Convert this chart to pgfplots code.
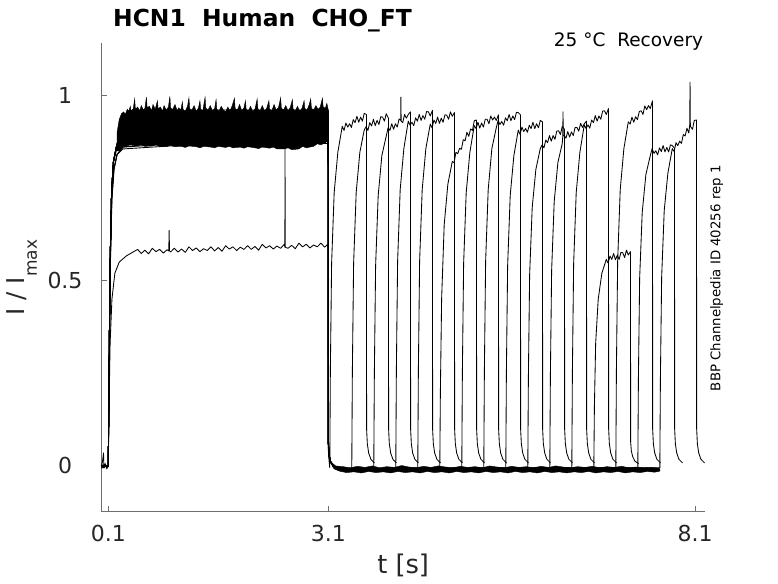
\documentclass[border=0pt]{standalone}
\usepackage{fontspec}
\setmainfont{DejaVu Sans}
\usepackage{pgfplots}
\pgfplotsset{compat=1.18}
\definecolor{axgray}{RGB}{110,110,110}
\definecolor{tickgray}{RGB}{38,38,38}
\begin{document}
\begin{tikzpicture}
\useasboundingbox (0,0) rectangle (778pt,583pt);
\begin{axis}[
  scale only axis, width=603.7pt, height=468.4pt,
  at={(101.3pt,71.3pt)}, anchor=south west,
  xmin=0.005, xmax=8.236, ymin=-0.1235, ymax=1.14,
  axis x line*=bottom, axis y line*=left,
  axis line style={line width=0.6pt, draw=axgray},
  xtick={0.1,3.1,8.1}, xticklabels={0.1,3.1,8.1},
  ytick={0,0.5,1}, yticklabels={0,0.5,1},
  tick align=inside, major tick length=5.5pt,
  tick style={line width=0.6pt, draw=axgray},
  /pgf/number format/assume math mode=true,
  ticklabel style={font=\fontsize{22}{26}\selectfont, text=tickgray},
  xticklabel style={anchor=base, yshift=-30pt},
  yticklabel style={anchor=center, xshift=-36.3pt},
  clip=false, no markers,
  tr/.style={black, solid, line width=0.85pt, mark=none, line join=round},
  bd/.style={fill=black, draw=black, solid, line width=0.4pt, mark=none},
]
% ---- activation-phase band (all full-amplitude sweeps, overlapping noise) ----
\addplot[bd] coordinates {
(0.22,0.90) (0.25,0.935) (0.28,0.95) (0.31,0.955) (0.33,0.948) (0.36,0.962) (0.38,0.957) (0.40,0.97)
(0.41,0.958) (0.44,0.963) (0.46,0.99) (0.47,0.962) (0.50,0.968) (0.53,0.958) (0.55,0.972) (0.58,0.96)
(0.60,0.965) (0.62,0.995) (0.63,0.966) (0.66,0.97) (0.69,0.958) (0.71,0.975) (0.74,0.962) (0.77,0.985)
(0.78,0.963) (0.81,0.968) (0.84,0.957) (0.86,0.972) (0.89,0.96) (0.92,0.968) (0.94,0.997) (0.95,0.965)
(0.98,0.962) (1.01,0.975) (1.04,0.958) (1.06,0.966) (1.09,0.96) (1.11,0.982) (1.12,0.962) (1.15,0.957)
(1.18,0.97) (1.20,0.993) (1.21,0.964) (1.24,0.96) (1.27,0.972) (1.30,0.956) (1.33,0.966) (1.35,0.985)
(1.36,0.962) (1.39,0.959) (1.42,0.995) (1.43,0.965) (1.46,0.96) (1.49,0.972) (1.52,0.958) (1.55,0.964)
(1.57,0.988) (1.58,0.962) (1.61,0.957) (1.64,0.97) (1.67,0.96) (1.70,0.955) (1.73,0.968) (1.76,0.958)
(1.79,0.972) (1.82,0.992) (1.83,0.964) (1.86,0.96) (1.89,0.975) (1.92,0.958) (1.95,0.966) (1.97,0.985)
(1.98,0.962) (2.01,0.958) (2.04,0.97) (2.07,0.956) (2.10,0.962) (2.13,0.99) (2.14,0.963) (2.17,0.958)
(2.20,0.972) (2.23,0.957) (2.26,0.965) (2.29,0.985) (2.30,0.962) (2.33,0.958) (2.36,0.975) (2.39,0.96)
(2.42,0.966) (2.45,0.993) (2.46,0.965) (2.49,0.96) (2.52,0.972) (2.55,0.958) (2.58,0.966) (2.61,0.988)
(2.62,0.963) (2.65,0.958) (2.68,0.97) (2.71,0.957) (2.74,0.964) (2.77,0.985) (2.78,0.964) (2.81,0.96)
(2.84,0.975) (2.86,0.99) (2.87,0.965) (2.90,0.96) (2.93,0.972) (2.96,0.962) (2.99,0.968) (3.02,0.992)
(3.03,0.968) (3.06,0.965) (3.08,0.978) (3.10,0.96)
(3.10,0.88) (3.06,0.872) (3.00,0.866) (2.95,0.869) (2.90,0.862) (2.80,0.858) (2.75,0.862) (2.70,0.855)
(2.60,0.853) (2.55,0.858) (2.50,0.855) (2.40,0.855) (2.35,0.860) (2.30,0.857) (2.20,0.860) (2.15,0.856)
(2.10,0.858) (2.00,0.861) (1.95,0.857) (1.90,0.860) (1.80,0.858) (1.75,0.862) (1.70,0.859) (1.60,0.862)
(1.55,0.858) (1.50,0.860) (1.40,0.862) (1.35,0.858) (1.30,0.861) (1.20,0.863) (1.15,0.859) (1.10,0.862)
(1.00,0.861) (0.95,0.865) (0.90,0.862) (0.80,0.862) (0.75,0.866) (0.70,0.863) (0.60,0.862) (0.55,0.866)
(0.50,0.864) (0.40,0.866) (0.30,0.86) (0.25,0.85) (0.22,0.85)
} -- cycle;
% ---- deactivated baseline band after 3.1 s ----
\addplot[bd] coordinates {
(3.15,0.008) (3.2,0.0) (3.3,-0.002) (3.4,-0.005) (3.5,-0.001) (3.6,-0.004) (3.7,0.000) (3.8,-0.005)
(3.9,-0.002) (4.0,-0.004) (4.1,0.001) (4.2,-0.003) (4.3,-0.005) (4.4,-0.001) (4.5,-0.004) (4.6,0.000)
(4.7,-0.003) (4.8,-0.005) (4.9,-0.001) (5.0,-0.004) (5.1,-0.002) (5.2,-0.005) (5.3,0.000) (5.4,-0.003)
(5.5,-0.005) (5.6,-0.001) (5.7,-0.004) (5.8,-0.002) (5.9,-0.005) (6.0,-0.001) (6.1,-0.004) (6.2,0.000)
(6.3,-0.003) (6.4,-0.005) (6.5,-0.002) (6.6,-0.004) (6.7,-0.001) (6.8,-0.005) (6.9,-0.002) (7.0,-0.004)
(7.1,-0.001) (7.2,-0.005) (7.3,-0.003) (7.4,-0.005) (7.5,-0.004) (7.6,-0.006) (7.62,-0.008)
(7.62,-0.014) (7.55,-0.017) (7.45,-0.015) (7.35,-0.018) (7.25,-0.016) (7.15,-0.019) (7.05,-0.015)
(6.95,-0.018) (6.85,-0.016) (6.75,-0.019) (6.65,-0.015) (6.55,-0.018) (6.45,-0.016) (6.35,-0.019)
(6.25,-0.016) (6.15,-0.018) (6.05,-0.015) (5.95,-0.019) (5.85,-0.016) (5.75,-0.018) (5.65,-0.015)
(5.55,-0.019) (5.45,-0.016) (5.35,-0.018) (5.25,-0.015) (5.15,-0.019) (5.05,-0.016) (4.95,-0.018)
(4.85,-0.015) (4.75,-0.019) (4.65,-0.016) (4.55,-0.018) (4.45,-0.015) (4.35,-0.019) (4.25,-0.016)
(4.15,-0.018) (4.05,-0.015) (3.95,-0.019) (3.85,-0.016) (3.75,-0.018) (3.65,-0.015) (3.55,-0.019)
(3.45,-0.016) (3.35,-0.018) (3.25,-0.014) (3.18,-0.008) (3.15,0.0)
} -- cycle;
% ---- sweep 1 ----
\addplot[tr] coordinates {
(0.005,0) (0.02,0.01) (0.035,0.035) (0.042,-0.006) (0.06,0.006) (0.08,-0.008) (0.1,0) (0.11,0.25) (0.125,0.55)
(0.145,0.74) (0.17,0.82) (0.21,0.86) (0.3,0.91) (0.7,0.92) (1.5,0.93) (3.098,0.93) (3.101,0.05) (3.11,0.015)
(3.120,-0.005) (3.128,0.255) (3.145,0.546) (3.180,0.737) (3.230,0.846)
(3.290,0.916) (3.315,0.905) (3.340,0.925) (3.365,0.914) (3.390,0.923) (3.415,0.913) (3.440,0.934) (3.465,0.926)
(3.490,0.943) (3.515,0.927) (3.540,0.941) (3.565,0.930) (3.590,0.951) (3.620,0.948)
(3.622,0.10) (3.632,0.06) (3.650,0.035) (3.680,0.018) (3.730,0.008)};
% ---- sweep 2 ----
\addplot[tr] coordinates {
(0.005,-0.004) (0.05,0.004) (0.1,-0.002) (0.11,0.25) (0.125,0.55) (0.145,0.74) (0.17,0.82) (0.21,0.86) (0.3,0.93) (0.7,0.94)
(1.5,0.95) (3.098,0.95) (3.101,0.06) (3.11,0.03) (3.13,0.012) (3.17,0.0) (3.25,-0.008) (3.35,-0.01)
(3.420,-0.005) (3.428,0.255) (3.445,0.546) (3.480,0.737) (3.530,0.846)
(3.590,0.906) (3.615,0.915) (3.640,0.905) (3.665,0.926) (3.690,0.917) (3.715,0.935) (3.740,0.918) (3.765,0.932)
(3.790,0.921) (3.815,0.942) (3.840,0.941) (3.865,0.930) (3.890,0.950) (3.920,0.938)
(3.922,0.10) (3.932,0.06) (3.950,0.035) (3.980,0.018) (4.030,0.008)};
% ---- sweep 3 ----
\addplot[tr] coordinates {
(0.005,0) (0.1,0) (0.112,0.25) (0.127,0.55) (0.147,0.74) (0.172,0.82) (0.21,0.85) (0.3,0.88) (0.7,0.89)
(1.5,0.90) (3.098,0.90) (3.101,0.06) (3.11,0.03) (3.13,0.012) (3.17,0.0) (3.25,-0.008) (3.35,-0.01)
(3.720,-0.005) (3.728,0.252) (3.745,0.54) (3.780,0.729) (3.830,0.837)
(3.890,0.890) (3.915,0.912) (3.940,0.905) (3.965,0.923) (3.990,0.908) (4.015,0.923) (4.040,0.914) (4.065,0.936)
(4.087,0.932) (4.090,0.995) (4.093,0.93) (4.115,0.926) (4.140,0.948) (4.165,0.938) (4.190,0.948) (4.220,0.955)
(4.222,0.10) (4.232,0.06) (4.250,0.035) (4.280,0.018) (4.330,0.008)};
% ---- sweep 4 ----
\addplot[tr] coordinates {
(0.005,0.003) (0.1,0) (0.11,0.25) (0.125,0.55) (0.145,0.74) (0.17,0.82) (0.21,0.86) (0.3,0.92) (0.7,0.93)
(1.5,0.94) (3.098,0.94) (3.101,0.06) (3.11,0.03) (3.13,0.012) (3.17,0.0) (3.25,-0.008) (3.35,-0.01)
(4.020,-0.005) (4.028,0.258) (4.045,0.552) (4.080,0.745) (4.130,0.856)
(4.190,0.930) (4.215,0.919) (4.240,0.927) (4.265,0.918) (4.290,0.939) (4.315,0.930) (4.340,0.948) (4.365,0.932)
(4.390,0.945) (4.415,0.935) (4.440,0.956) (4.465,0.955) (4.490,0.944) (4.520,0.959)
(4.522,0.10) (4.532,0.06) (4.550,0.035) (4.580,0.018) (4.630,0.008)};
% ---- sweep 5 ----
\addplot[tr] coordinates {
(0.005,-0.006) (0.1,0) (0.11,0.25) (0.125,0.55) (0.145,0.74) (0.17,0.82) (0.21,0.86) (0.3,0.90) (0.7,0.91)
(1.5,0.92) (3.098,0.92) (3.101,0.06) (3.11,0.03) (3.13,0.012) (3.17,0.0) (3.25,-0.008) (3.35,-0.01)
(4.320,-0.005) (4.328,0.258) (4.345,0.552) (4.380,0.745) (4.430,0.856)
(4.490,0.922) (4.515,0.912) (4.540,0.933) (4.565,0.924) (4.590,0.941) (4.615,0.924) (4.640,0.938) (4.665,0.927)
(4.690,0.947) (4.715,0.946) (4.740,0.935) (4.765,0.955) (4.790,0.943) (4.820,0.953)
(4.822,0.10) (4.832,0.06) (4.850,0.035) (4.880,0.018) (4.930,0.008)};
% ---- sweep 6 ----
\addplot[tr] coordinates {
(0.005,0) (0.1,0) (0.114,0.25) (0.13,0.55) (0.15,0.72) (0.18,0.80) (0.22,0.84) (0.3,0.86) (0.7,0.87)
(1.5,0.88) (3.098,0.88) (3.101,0.06) (3.11,0.03) (3.13,0.012) (3.17,0.0) (3.25,-0.008) (3.35,-0.01)
(4.620,-0.005) (4.628,0.20) (4.645,0.45) (4.680,0.65) (4.730,0.76)
(4.790,0.821) (4.815,0.818) (4.840,0.846) (4.865,0.842) (4.890,0.857) (4.915,0.854) (4.940,0.880) (4.965,0.877)
(4.990,0.900) (5.015,0.889) (5.040,0.909) (5.065,0.905) (5.090,0.931) (5.120,0.933)
(5.122,0.10) (5.132,0.06) (5.150,0.035) (5.180,0.018) (5.230,0.008)};
% ---- sweep 7 ----
\addplot[tr] coordinates {
(0.005,0) (0.1,0) (0.11,0.25) (0.125,0.55) (0.145,0.74) (0.17,0.82) (0.21,0.86) (0.3,0.925) (0.7,0.935)
(1.5,0.945) (3.098,0.945) (3.101,0.06) (3.11,0.03) (3.13,0.012) (3.17,0.0) (3.25,-0.008) (3.35,-0.01)
(4.920,-0.005) (4.928,0.255) (4.945,0.546) (4.980,0.737) (5.030,0.846)
(5.090,0.918) (5.115,0.910) (5.140,0.927) (5.165,0.911) (5.190,0.925) (5.215,0.914) (5.240,0.935) (5.265,0.935)
(5.290,0.923) (5.315,0.944) (5.340,0.933) (5.365,0.941) (5.390,0.932) (5.420,0.947)
(5.422,0.10) (5.432,0.06) (5.450,0.035) (5.480,0.018) (5.530,0.008)};
% ---- sweep 8 ----
\addplot[tr] coordinates {
(0.005,0) (0.1,0) (0.11,0.25) (0.125,0.55) (0.145,0.74) (0.17,0.82) (0.21,0.86) (0.3,0.935) (0.7,0.945)
(1.5,0.955) (3.098,0.955) (3.101,0.06) (3.11,0.03) (3.13,0.012) (3.17,0.0) (3.25,-0.008) (3.35,-0.01)
(5.220,-0.005) (5.228,0.258) (5.245,0.552) (5.280,0.745) (5.330,0.856)
(5.390,0.912) (5.415,0.932) (5.440,0.921) (5.465,0.929) (5.490,0.919) (5.515,0.939) (5.540,0.931) (5.565,0.948)
(5.590,0.931) (5.615,0.944) (5.640,0.934) (5.665,0.954) (5.690,0.953) (5.720,0.947)
(5.722,0.10) (5.732,0.06) (5.750,0.035) (5.780,0.018) (5.830,0.008)};
% ---- sweep 9 ----
\addplot[tr] coordinates {
(0.005,0) (0.1,0) (0.11,0.25) (0.125,0.55) (0.145,0.74) (0.17,0.82) (0.21,0.86) (0.3,0.89) (0.7,0.90)
(1.5,0.91) (3.098,0.91) (3.101,0.06) (3.11,0.03) (3.13,0.012) (3.17,0.0) (3.25,-0.008) (3.35,-0.01)
(5.520,-0.005) (5.528,0.252) (5.545,0.54) (5.580,0.729) (5.630,0.837)
(5.690,0.906) (5.715,0.894) (5.740,0.914) (5.765,0.902) (5.790,0.910) (5.815,0.900) (5.840,0.919) (5.865,0.910)
(5.890,0.927) (5.915,0.910) (5.940,0.923) (5.965,0.912) (5.990,0.932) (6.020,0.928)
(6.022,0.10) (6.032,0.06) (6.050,0.035) (6.080,0.018) (6.130,0.008)};
% ---- sweep 10 ----
\addplot[tr] coordinates {
(0.005,0) (0.1,0) (0.113,0.25) (0.128,0.55) (0.148,0.72) (0.175,0.80) (0.22,0.84) (0.3,0.86) (0.7,0.865)
(1.5,0.875) (3.098,0.875) (3.101,0.06) (3.11,0.03) (3.13,0.012) (3.17,0.0) (3.25,-0.008) (3.35,-0.01)
(5.820,-0.005) (5.828,0.241) (5.845,0.516) (5.880,0.697) (5.930,0.80)
(5.990,0.856) (6.015,0.866) (6.040,0.858) (6.065,0.879) (6.090,0.872) (6.115,0.891) (6.140,0.876) (6.165,0.891)
(6.190,0.881) (6.215,0.903) (6.240,0.904) (6.265,0.894) (6.290,0.916) (6.320,0.908)
(6.322,0.10) (6.332,0.06) (6.350,0.035) (6.380,0.018) (6.430,0.008)};
% ---- sweep 11 ----
\addplot[tr] coordinates {
(0.005,0) (0.1,0) (0.11,0.25) (0.125,0.55) (0.145,0.74) (0.17,0.82) (0.21,0.86) (0.3,0.87) (0.7,0.88)
(1.5,0.89) (3.098,0.89) (3.101,0.06) (3.11,0.03) (3.13,0.012) (3.17,0.0) (3.25,-0.008) (3.35,-0.01)
(6.120,-0.005) (6.128,0.246) (6.145,0.528) (6.180,0.713) (6.230,0.818)
(6.290,0.870) (6.297,0.89) (6.300,0.955) (6.303,0.89) (6.315,0.891) (6.340,0.884) (6.365,0.902) (6.390,0.887)
(6.415,0.901) (6.440,0.891) (6.465,0.913) (6.490,0.913) (6.515,0.903) (6.540,0.924) (6.565,0.913) (6.590,0.923)
(6.620,0.930)
(6.622,0.10) (6.632,0.06) (6.650,0.035) (6.680,0.018) (6.730,0.008)};
% ---- sweep 12 ----
\addplot[tr] coordinates {
(0.005,0) (0.1,0) (0.11,0.25) (0.125,0.55) (0.145,0.74) (0.17,0.82) (0.21,0.86) (0.3,0.915) (0.7,0.925)
(1.5,0.935) (3.098,0.935) (3.101,0.06) (3.11,0.03) (3.13,0.012) (3.17,0.0) (3.25,-0.008) (3.35,-0.01)
(6.420,-0.005) (6.428,0.255) (6.445,0.546) (6.480,0.737) (6.530,0.846)
(6.590,0.920) (6.615,0.910) (6.640,0.920) (6.665,0.911) (6.690,0.933) (6.715,0.926) (6.740,0.945) (6.765,0.930)
(6.790,0.944) (6.815,0.935) (6.840,0.957) (6.865,0.958) (6.890,0.948) (6.920,0.964)
(6.922,0.10) (6.932,0.06) (6.950,0.035) (6.980,0.018) (7.030,0.008)};
% ---- sweep 13 (reduced amplitude) ----
\addplot[tr] coordinates {
(0.005,0) (0.1,0) (0.11,0.15) (0.125,0.33) (0.15,0.45) (0.19,0.52) (0.25,0.55) (0.35,0.567)
(0.50,0.584) (0.55,0.573) (0.60,0.582) (0.65,0.572) (0.70,0.587) (0.75,0.578) (0.80,0.584) (0.85,0.574)
(0.90,0.583) (0.925,0.58) (0.93,0.635) (0.935,0.58) (0.95,0.577) (1.00,0.587) (1.05,0.577) (1.10,0.585)
(1.15,0.576) (1.20,0.591) (1.25,0.581) (1.30,0.588) (1.35,0.578) (1.40,0.586) (1.45,0.581) (1.50,0.591)
(1.55,0.580) (1.60,0.589) (1.65,0.579) (1.70,0.594) (1.75,0.585) (1.80,0.591) (1.85,0.581) (1.90,0.590)
(1.95,0.584) (2.00,0.594) (2.05,0.584) (2.10,0.592) (2.15,0.582) (2.20,0.598) (2.25,0.588) (2.30,0.594)
(2.35,0.585) (2.40,0.593) (2.45,0.587) (2.50,0.598) (2.508,0.59) (2.51,0.86) (2.512,0.59) (2.55,0.587)
(2.60,0.595) (2.65,0.586) (2.70,0.601) (2.75,0.591) (2.80,0.598) (2.85,0.588) (2.90,0.596) (2.95,0.591)
(3.00,0.601) (3.05,0.590) (3.095,0.598)
(3.101,0.04) (3.11,0.02) (3.13,0.008) (3.17,0.0) (3.25,-0.008) (3.35,-0.01)
(6.720,-0.005) (6.728,0.16) (6.745,0.33) (6.780,0.45) (6.830,0.52)
(6.890,0.557) (6.915,0.547) (6.940,0.566) (6.965,0.557) (6.990,0.573) (7.015,0.556) (7.040,0.568) (7.065,0.557)
(7.090,0.576) (7.115,0.575) (7.140,0.562) (7.165,0.582) (7.190,0.569) (7.220,0.578)
(7.222,0.065) (7.232,0.04) (7.250,0.025) (7.280,0.013) (7.330,0.006)};
% ---- sweep 14 ----
\addplot[tr] coordinates {
(0.005,0) (0.1,0) (0.11,0.25) (0.125,0.55) (0.145,0.74) (0.17,0.82) (0.21,0.86) (0.3,0.94) (0.7,0.95)
(1.5,0.96) (3.098,0.96) (3.101,0.06) (3.11,0.03) (3.13,0.012) (3.17,0.0) (3.25,-0.008) (3.35,-0.01)
(7.020,-0.005) (7.028,0.258) (7.045,0.552) (7.080,0.745) (7.130,0.856)
(7.190,0.928) (7.215,0.922) (7.240,0.941) (7.265,0.927) (7.290,0.942) (7.315,0.934) (7.340,0.956) (7.365,0.958)
(7.390,0.948) (7.415,0.971) (7.440,0.961) (7.465,0.972) (7.490,0.964) (7.520,0.985)
(7.522,0.10) (7.532,0.06) (7.550,0.035) (7.580,0.018) (7.630,0.008)};
% ---- sweep 15 ----
\addplot[tr] coordinates {
(0.005,0) (0.1,0) (0.113,0.25) (0.128,0.55) (0.148,0.72) (0.175,0.80) (0.22,0.84) (0.3,0.855) (0.7,0.86)
(1.5,0.87) (3.098,0.87) (3.101,0.06) (3.11,0.03) (3.13,0.012) (3.17,0.0) (3.25,-0.008) (3.35,-0.01)
(7.320,-0.005) (7.328,0.237) (7.345,0.507) (7.380,0.684) (7.430,0.786)
(7.490,0.837) (7.515,0.856) (7.540,0.843) (7.565,0.850) (7.590,0.839) (7.615,0.858) (7.640,0.848) (7.665,0.864)
(7.690,0.847) (7.715,0.859) (7.740,0.847) (7.765,0.866) (7.790,0.864) (7.820,0.857)
(7.822,0.10) (7.832,0.06) (7.850,0.035) (7.880,0.018) (7.930,0.008)};
% ---- sweep 16 ----
\addplot[tr] coordinates {
(0.005,0) (0.1,0) (0.11,0.25) (0.125,0.55) (0.145,0.74) (0.17,0.82) (0.21,0.86) (0.3,0.865) (0.7,0.875)
(1.5,0.885) (3.098,0.885) (3.101,0.06) (3.11,0.03) (3.13,0.012) (3.17,0.0) (3.25,-0.008) (3.35,-0.01)
(7.620,-0.005) (7.628,0.238) (7.645,0.51) (7.680,0.689) (7.730,0.79)
(7.790,0.856) (7.815,0.848) (7.840,0.872) (7.865,0.864) (7.890,0.876) (7.915,0.870) (7.940,0.894) (7.965,0.890)
(7.990,0.911) (8.015,0.898) (8.028,0.92) (8.032,1.035) (8.036,0.92) (8.040,0.915) (8.065,0.908) (8.090,0.932)
(8.120,0.933)
(8.122,0.10) (8.132,0.06) (8.150,0.035) (8.180,0.018) (8.230,0.008)};
% ---- texts ----
\node[anchor=base west, inner sep=0, font=\fontsize{23.4}{28}\selectfont\bfseries]
  at (axis description cs:0.0194,1.0354) {HCN1\ \ Human\ \ CHO\_FT};
\node[anchor=base east, inner sep=0, font=\fontsize{18.5}{22}\selectfont]
  at (axis description cs:0.9972,0.9927) {25 °C\ \ Recovery};
\node[rotate=90, anchor=center, inner sep=0, font=\fontsize{13.3}{16}\selectfont]
  at (axis description cs:1.0194,0.4983) {BBP Channelpedia ID 40256 rep 1};
\node[anchor=base, inner sep=0, font=\fontsize{25.7}{30}\selectfont, text=tickgray]
  at (axis description cs:0.5,-0.1315) {t [s]};
\node[rotate=90, anchor=base, inner sep=0, font=\fontsize{24.5}{28}\selectfont, text=tickgray]
  at (axis description cs:-0.1264,0.5) {I / I\raisebox{-12pt}{\fontsize{17}{20}\selectfont max}};
\end{axis}
\end{tikzpicture}
\end{document}
